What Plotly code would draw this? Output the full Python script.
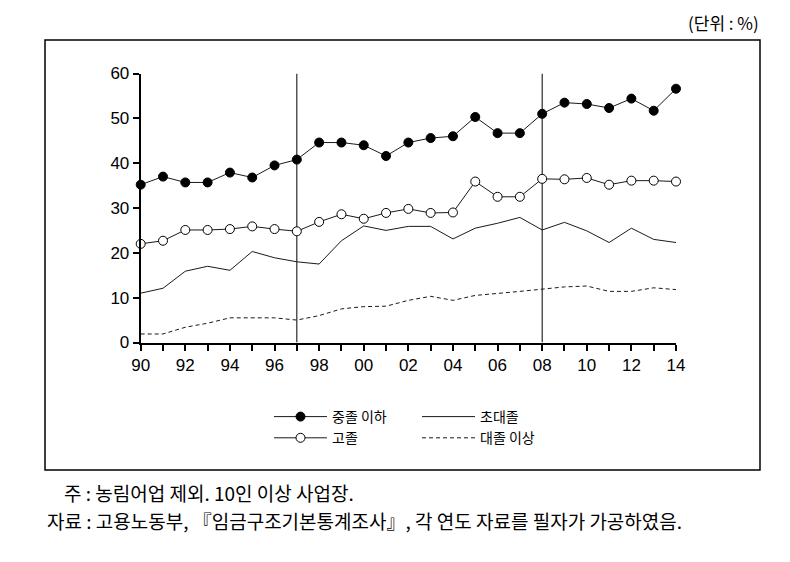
import plotly.graph_objects as go

years = list(range(1990, 2015))
tick_text = [("%02d" % (y % 100)) if y % 2 == 0 else "" for y in years]

middle_or_less = [35.2, 37.0, 35.7, 35.7, 37.9, 36.8, 39.5, 40.8, 44.6, 44.6, 44.0, 41.6, 44.6,
                  45.6, 46.0, 50.3, 46.7, 46.7, 51.0, 53.5, 53.2, 52.3, 54.4, 51.7, 56.6]
high_school = [22.0, 22.7, 25.1, 25.1, 25.3, 25.9, 25.3, 24.8, 26.9, 28.6, 27.6, 28.9, 29.8,
               28.9, 29.0, 35.9, 32.5, 32.5, 36.5, 36.4, 36.7, 35.2, 36.1, 36.1, 35.9]
junior_college = [11.0, 12.1, 15.9, 17.0, 16.1, 20.3, 18.9, 18.0, 17.5, 22.7, 26.0, 25.0, 25.9,
                  25.9, 23.1, 25.5, 26.6, 27.9, 25.1, 26.8, 24.9, 22.3, 25.5, 23.0, 22.3]
university_plus = [1.9, 1.9, 3.4, 4.3, 5.5, 5.5, 5.5, 5.0, 6.0, 7.5, 8.0, 8.1, 9.4,
                   10.3, 9.4, 10.5, 10.9, 11.4, 11.9, 12.4, 12.6, 11.4, 11.4, 12.2, 11.8]
divider_years = [1997, 2008]

W, H = 790, 562
OFF = 8  # page body margin offset
def px(x):
    return (x - OFF) / W
def py(y):
    return 1 - (y - OFF) / H

fig = go.Figure()
LC = "#1a1a1a"
fig.add_trace(go.Scatter(x=years, y=middle_or_less, name="중졸 이하", mode="lines+markers",
                         line=dict(color=LC, width=1),
                         marker=dict(symbol="circle", size=9, color="black", line=dict(color="black", width=1)),
                         cliponaxis=False, legend="legend"))
fig.add_trace(go.Scatter(x=years, y=high_school, name="고졸", mode="lines+markers",
                         line=dict(color=LC, width=1),
                         marker=dict(symbol="circle", size=9, color="white", line=dict(color="black", width=1)),
                         cliponaxis=False, legend="legend"))
fig.add_trace(go.Scatter(x=years, y=junior_college, name="초대졸", mode="lines",
                         line=dict(color=LC, width=1), cliponaxis=False, legend="legend2"))
fig.add_trace(go.Scatter(x=years, y=university_plus, name="대졸 이상", mode="lines",
                         line=dict(color=LC, width=1, dash="4px,3px"), cliponaxis=False, legend="legend2"))

for yr in divider_years:
    fig.add_shape(type="line", xref="x", yref="y", x0=yr, x1=yr, y0=0, y1=60,
                  line=dict(color="black", width=1), layer="below")

# outer frame
fig.add_shape(type="rect", xref="paper", yref="paper", x0=px(45), x1=px(760), y0=py(470), y1=py(40),
              line=dict(color="black", width=1.5))

tickfont = dict(family="Liberation Sans, Arial", size=17, color="black")
fig.update_xaxes(domain=[px(140.7), px(676)], range=[1990, 2014], tickmode="array",
                 tickvals=years, ticktext=tick_text, ticks="outside", ticklen=6, tickwidth=2,
                 tickcolor="black", showline=True, linecolor="black", linewidth=2,
                 showgrid=False, zeroline=False, tickfont=tickfont, automargin=False)
fig.update_yaxes(domain=[py(342.5), py(73.5)], range=[0, 60], tickmode="array",
                 tickvals=[0, 10, 20, 30, 40, 50, 60], ticks="outside", ticklen=6, tickwidth=2,
                 tickcolor="black", showline=True, linecolor="black", linewidth=2,
                 showgrid=False, zeroline=False, tickfont=tickfont, automargin=False)

legfont = dict(family="Noto Sans CJK KR", size=14, color="black")
fig.update_layout(
    width=W, height=H, margin=dict(l=0, r=0, t=0, b=0, pad=0, autoexpand=False),
    paper_bgcolor="white", plot_bgcolor="white",
    legend=dict(x=px(269), y=py(401), xanchor="left", yanchor="top", font=legfont,
                bgcolor="rgba(0,0,0,0)", tracegroupgap=0, itemwidth=53),
    legend2=dict(x=px(417), y=py(401), xanchor="left", yanchor="top", font=legfont,
                 bgcolor="rgba(0,0,0,0)", tracegroupgap=0, itemwidth=53),
    annotations=[
        dict(text="(단위 : %)", xref="paper", yref="paper", x=px(761), y=1,
             xanchor="right", yanchor="top", showarrow=False,
             font=dict(family="Noto Sans CJK KR", size=17, color="black")),
        dict(text="주 : 농림어업 제외. 10인 이상 사업장.", xref="paper", yref="paper",
             x=px(62), y=py(492), xanchor="left", yanchor="middle", showarrow=False,
             font=dict(family="Noto Sans CJK KR", size=19, color="black")),
        dict(text="자료 : 고용노동부, 『임금구조기본통계조사』, 각 연도 자료를 필자가 가공하였음.",
             xref="paper", yref="paper", x=px(45), y=py(520), xanchor="left", yanchor="middle",
             showarrow=False, font=dict(family="Noto Sans CJK KR", size=19, color="black")),
    ],
)

fig.write_html("out.html")
